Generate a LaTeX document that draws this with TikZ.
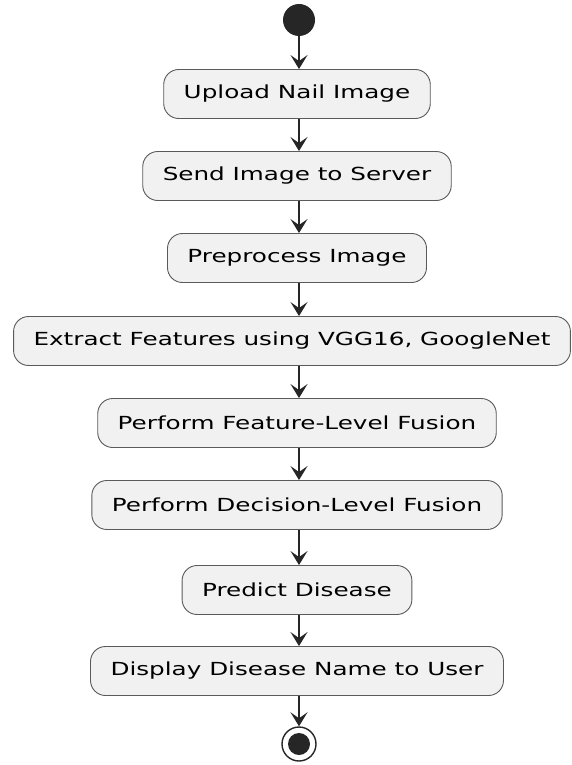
\documentclass[tikz,border=0pt]{standalone}
\usepackage{fontspec}
\setmainfont{DejaVu Sans}[FakeStretch=1.37]
\usepackage{tikz}
\usetikzlibrary{arrows.meta, positioning, calc}
\definecolor{actfill}{HTML}{F1F1F1}
\definecolor{actline}{HTML}{5A5A5A}
\tikzset{
  act/.style   = {draw=actline, fill=actfill, rounded corners=15pt, align=center,
                  font=\fontsize{18}{21}\selectfont, minimum height=49pt,
                  inner xsep=20pt, line width=0.9pt},
  flow/.style  = {-{Stealth[length=14pt, width=17pt, inset=6pt]}, line width=1.5pt, color=black!85},
  startdot/.style = {circle, fill=black!85, minimum size=32pt, inner sep=0pt},
  enddot/.style   = {circle, draw=black!85, line width=1.4pt, minimum size=34pt, inner sep=0pt},
}

\begin{document}
\begin{tikzpicture}[x=1pt, y=1pt]
    \useasboundingbox (0,0) rectangle (572,-765);

    \node[startdot] (start) at (299,-20) {};
    \node[act] (upload)  at (297,-94)  {Upload Nail Image};
    \node[act] (send)    at (297,-176) {Send Image to Server};
    \node[act] (prep)    at (297,-258) {Preprocess Image};
    \node[act] (extract) at (292,-341) {Extract Features using VGG16, GoogleNet};
    \node[act] (featfus) at (297,-423) {Perform Feature-Level Fusion};
    \node[act] (decfus)  at (297,-505) {Perform Decision-Level Fusion};
    \node[act] (predict) at (297,-590) {Predict Disease};
    \node[act] (display) at (297,-671) {Display Disease Name to User};
    \node[enddot] (stop) at (299,-744) {};
    \fill[black!85] (stop.center) circle (11pt);

    \draw[flow] (start) -- (start |- upload.north);
    \draw[flow] (upload.south -| start) -- (start |- send.north);
    \draw[flow] (send.south -| start) -- (start |- prep.north);
    \draw[flow] (prep.south -| start) -- (start |- extract.north);
    \draw[flow] (extract.south -| start) -- (start |- featfus.north);
    \draw[flow] (featfus.south -| start) -- (start |- decfus.north);
    \draw[flow] (decfus.south -| start) -- (start |- predict.north);
    \draw[flow] (predict.south -| start) -- (start |- display.north);
    \draw[flow] (display.south -| start) -- (stop);
  \end{tikzpicture}
\end{document}
